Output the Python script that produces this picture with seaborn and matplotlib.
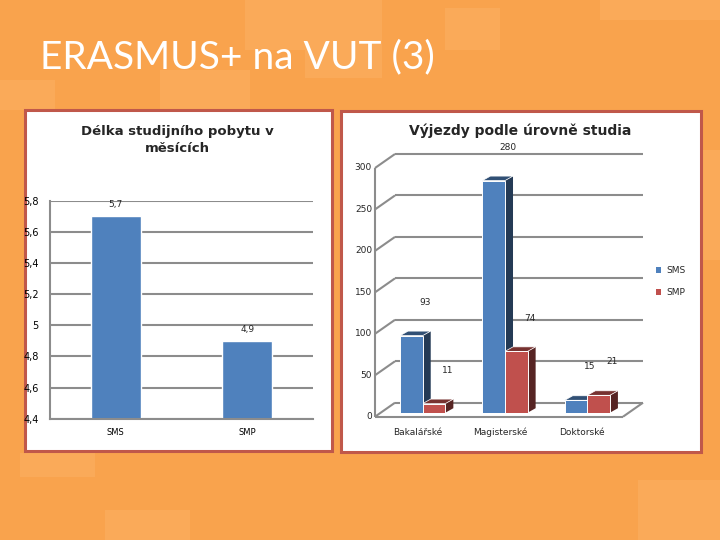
import numpy as np
import pandas as pd
import matplotlib
matplotlib.use("Agg")
import matplotlib.pyplot as plt
import seaborn as sns
from matplotlib.patches import Rectangle, Polygon, Patch
from matplotlib.colors import to_rgb

# ---------------- data ----------------
main_title = "ERASMUS+ na VUT (3)"

left_title = "Délka studijního pobytu v\nměsících"
left_cats = ["SMS", "SMP"]
left_vals = [5.7, 4.9]
left_val_labels = ["5,7", "4,9"]
left_ticks = [4.4, 4.6, 4.8, 5.0, 5.2, 5.4, 5.6, 5.8]
left_tick_labels = ["4,4", "4,6", "4,8", "5", "5,2", "5,4", "5,6", "5,8"]

right_title = "Výjezdy podle úrovně studia"
levels = ["Bakalářské", "Magisterské", "Doktorské"]
series = ["SMS", "SMP"]
sms_vals = [93, 280, 15]
smp_vals = [11, 74, 21]
right_ticks = [0, 50, 100, 150, 200, 250, 300]

BLUE = "#4F81BD"
RED = "#C0504D"
GRID = "#8C8C8C"
ORANGE = "#F9A34D"
LIGHT = "#FBB064"
BORDER = "#C0584A"

W, H = 720, 540
sns.set_theme(style="white")
plt.rcParams["font.family"] = ["DejaVu Sans"]

fig = plt.figure(figsize=(7.2, 5.4), dpi=100)
fig.patch.set_facecolor(ORANGE)


def frect(x0, y0, x1, y1):
    return [x0 / W, 1 - y1 / H, (x1 - x0) / W, (y1 - y0) / H]


# decorative lighter blocks
for (x0, y0, x1, y1) in [(245, 0, 382, 50), (305, 50, 382, 78), (445, 8, 500, 50),
                         (0, 80, 55, 110), (160, 70, 250, 110), (20, 453, 95, 477),
                         (638, 480, 720, 540), (105, 510, 190, 540), (600, 0, 720, 20),
                         (690, 150, 720, 260)]:
    r = frect(x0, y0, x1, y1)
    fig.add_artist(Rectangle((r[0], r[1]), r[2], r[3], transform=fig.transFigure,
                             facecolor=LIGHT, edgecolor="none", alpha=0.55, zorder=-2))

# white panels
for (x0, y0, x1, y1) in [(25, 110, 332, 451), (341, 111, 701, 452)]:
    r = frect(x0, y0, x1, y1)
    fig.add_artist(Rectangle((r[0], r[1]), r[2], r[3], transform=fig.transFigure,
                             facecolor="white", edgecolor=BORDER, lw=2.2, zorder=-1))

# main title
fig.text(40 / W, 1 - 57 / H, main_title, color="white", fontsize=28,
         family=["Lato", "DejaVu Sans"], ha="left", va="center")

# ---------------- left chart ----------------
ax1 = fig.add_axes(frect(50, 200.7, 313, 418.7))
ax1.set_facecolor("none")
df1 = pd.DataFrame({"cat": left_cats, "val": left_vals})
sns.barplot(data=df1, x="cat", y="val", color=BLUE, saturation=1, width=0.38, ax=ax1)
ax1.set_ylim(left_ticks[0], left_ticks[-1])
ax1.set_yticks(left_ticks)
ax1.set_yticklabels(left_tick_labels)
ax1.set_xlim(-0.5, 1.5)
ax1.yaxis.grid(True, color=GRID, lw=1.5)
ax1.set_axisbelow(True)
for s in ["top", "right"]:
    ax1.spines[s].set_visible(False)
for s in ["left", "bottom"]:
    ax1.spines[s].set_color(GRID)
    ax1.spines[s].set_linewidth(1.5)
ax1.tick_params(axis="y", length=0, pad=8, labelsize=7, colors="black")
ax1.tick_params(axis="x", length=0, pad=7, labelsize=6, colors="black")
ax1.set_xlabel("")
ax1.set_ylabel("")
ax1.bar_label(ax1.containers[0], labels=left_val_labels, padding=5, fontsize=6.5)
fig.text(177 / W, 1 - 140 / H, left_title, ha="center", va="center",
         fontsize=9.5, fontweight="bold", linespacing=1.5)

# ---------------- right chart ----------------
ax2 = fig.add_axes(frect(375, 164, 623, 412.7))
ax2.set_facecolor("none")
df2 = pd.DataFrame({
    "level": levels * 2,
    "series": [series[0]] * 3 + [series[1]] * 3,
    "value": sms_vals + smp_vals,
})
sns.barplot(data=df2, x="level", y="value", hue="series", palette=[BLUE, RED],
            saturation=1, width=0.55, gap=0, ax=ax2, legend=False,
            edgecolor="white", linewidth=0.7, zorder=3)
ax2.set_xlim(-0.58, 2.434)
ax2.set_ylim(right_ticks[0], right_ticks[-1])
for s in ax2.spines.values():
    s.set_visible(False)
ax2.set_yticks([])
ax2.set_xticks([])
ax2.set_xlabel("")
ax2.set_ylabel("")

bw, bh = ax2.bbox.width, ax2.bbox.height
xr = ax2.get_xlim()[1] - ax2.get_xlim()[0]
yr = ax2.get_ylim()[1] - ax2.get_ylim()[0]
px_x = bw / xr   # display px per data unit
px_y = bh / yr

# 3D faces of the bars
ddx = 8 / px_x
ddy = 4.5 / px_y
for p in list(ax2.patches):
    x0, w, h = p.get_x(), p.get_width(), p.get_height()
    fc = np.array(to_rgb(p.get_facecolor()))
    top = Polygon([(x0, h), (x0 + w, h), (x0 + w + ddx, h + ddy), (x0 + ddx, h + ddy)],
                  closed=True, facecolor=fc * 0.62, edgecolor="white", lw=0.5, zorder=2.5)
    side = Polygon([(x0 + w, 0), (x0 + w, h), (x0 + w + ddx, h + ddy), (x0 + w + ddx, ddy)],
                   closed=True, facecolor=fc * 0.45, edgecolor="none", zorder=2.4)
    ax2.add_patch(top)
    ax2.add_patch(side)
    ax2.annotate(f"{int(round(h))}", (x0 + w / 2, h), xytext=(10, 24),
                 textcoords="offset points", ha="center", va="center", fontsize=6.5,
                 annotation_clip=False, zorder=5)

# walls / gridlines
yt = ax2.get_yaxis_transform()
front_dy = 4 / px_y
back_dx = 20 / bw
back_dy = 10 / px_y
gkw = dict(color=GRID, lw=1.5, clip_on=False, transform=yt, solid_capstyle="butt")
for v in right_ticks:
    ax2.plot([back_dx, 1 + back_dx], [v + back_dy, v + back_dy], zorder=0.5, **gkw)
    ax2.plot([0, back_dx], [v - front_dy, v + back_dy], zorder=0.5, **gkw)
    ax2.text(-3 / bw, v - front_dy, f"{v}", transform=yt, ha="right", va="center",
             fontsize=6.5)
ax2.plot([0, 0], [right_ticks[0] - front_dy, right_ticks[-1] - front_dy], zorder=0.5, **gkw)
ax2.plot([0, 1], [right_ticks[0] - front_dy, right_ticks[0] - front_dy], zorder=0.5, **gkw)
ax2.plot([1, 1 + back_dx], [right_ticks[0] - front_dy, right_ticks[0] + back_dy], zorder=0.5, **gkw)

xt = ax2.get_xaxis_transform()
for i, lab in enumerate(levels):
    ax2.text(i - 5 / px_x, -20 / bh, lab, transform=xt, ha="center", va="center", fontsize=6.5)

handles = [Patch(facecolor=BLUE, edgecolor="none"), Patch(facecolor=RED, edgecolor="none")]
ax2.legend(handles, series, loc="center left", bbox_to_anchor=(656 / W, 1 - 281.5 / H),
           bbox_transform=fig.transFigure, frameon=False, fontsize=6.5,
           handlelength=0.6, handleheight=0.6, labelspacing=1.45, handletextpad=0.6,
           borderaxespad=0, borderpad=0)

fig.text(520 / W, 1 - 131 / H, right_title, ha="center", va="center",
         fontsize=10, fontweight="bold")

fig.savefig("out.png", dpi=100, facecolor=fig.get_facecolor())
